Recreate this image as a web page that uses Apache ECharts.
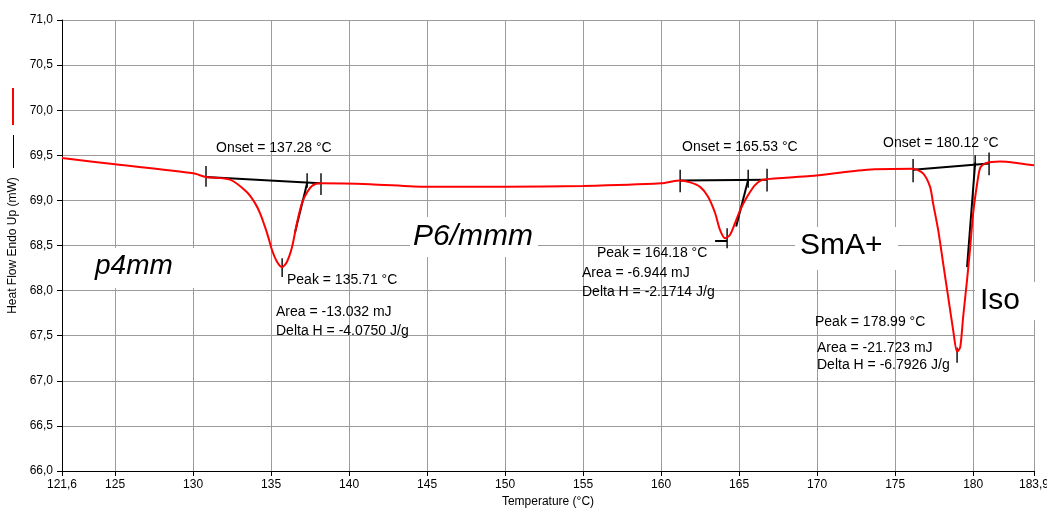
<!DOCTYPE html>
<html>
<head>
<meta charset="utf-8">
<script src="https://cdn.jsdelivr.net/npm/echarts@6/dist/echarts.min.js"></script>
<style>
  html, body { margin: 0; padding: 0; background: #fff; }
  #chart { width: 1047px; height: 510px; }
</style>
</head>
<body>
<div id="chart"></div>
<script>
// DSC trace (temperature in °C, heat flow in mW)
const temps = [
  121.6, 125.0, 130.0, 130.83, 132.37, 133.46, 133.97, 134.29, 134.74, 135.06,
  135.38, 135.71, 136.02, 136.34, 136.66, 136.98, 137.31, 137.69, 138.14, 141.34,
  145.0, 150.0, 155.0, 160.0, 161.22, 161.86, 162.5, 163.01, 163.46, 163.78,
  164.1, 164.42, 164.74, 165.06, 165.51, 166.02, 166.54, 169.55, 173.21, 176.15,
  176.79, 177.24, 177.43, 177.76, 178.07, 178.4, 178.72, 178.97, 179.17, 179.36,
  179.61, 179.81, 180.0, 180.26, 180.45, 180.77, 181.73, 183.01, 183.9
]
const heatFlow = [
  69.47, 69.40, 69.30, 69.26, 69.23, 69.09, 68.97, 68.86, 68.64, 68.45,
  68.32, 68.26, 68.32, 68.48, 68.75, 68.97, 69.09, 69.17, 69.19, 69.18,
  69.15, 69.15, 69.16, 69.19, 69.22, 69.20, 69.15, 69.04, 68.86, 68.67,
  68.58, 68.62, 68.75, 68.89, 69.04, 69.17, 69.23, 69.27, 69.34, 69.35,
  69.30, 69.15, 68.97, 68.67, 68.31, 67.93, 67.56, 67.32, 67.37, 67.71,
  68.12, 68.48, 68.86, 69.19, 69.36, 69.41, 69.43, 69.41, 69.39
]

// analysis construction lines (black)
const baselines = [
  [[130.83, 69.26], [138.14, 69.19]],
  [[161.22, 69.22], [166.79, 69.23]],
  [[176.15, 69.34], [181.02, 69.41]]
]
const tangents = [
  [[136.54, 68.65], [137.31, 69.19]],
  [[164.81, 68.71], [165.58, 69.23]],
  [[179.61, 68.26], [180.13, 69.42]]
]
// small marker ticks: [temperature, low, high]
const markerTicks = [
  [130.83, 69.15, 69.38], [137.31, 69.14, 69.30], [138.2, 69.06, 69.30], [135.71, 68.15, 68.36],
  [161.22, 69.09, 69.34], [165.58, 69.14, 69.34], [166.79, 69.10, 69.35], [164.23, 68.47, 68.69],
  [176.15, 69.20, 69.46], [180.13, 69.37, 69.50], [181.02, 69.28, 69.53], [178.97, 67.20, 67.37]
]
const peakFlats = [
  [[163.46, 68.55], [164.23, 68.55]]
]

const xLabelValues = [121.6, 125, 130, 135, 140, 145, 150, 155, 160, 165, 170, 175, 180, 183.9]

// annotation text
const notes = [
  { text: "Onset = 137.28 °C", x: 216, y: 148 },
  { text: "Peak = 135.71 °C", x: 287, y: 280 },
  { text: "Area = -13.032 mJ", x: 276, y: 312 },
  { text: "Delta H = -4.0750 J/g", x: 276, y: 331 },
  { text: "Onset = 165.53 °C", x: 682, y: 147 },
  { text: "Peak = 164.18 °C", x: 597, y: 253 },
  { text: "Area = -6.944 mJ", x: 582, y: 273 },
  { text: "Delta H = -2.1714 J/g", x: 582, y: 292 },
  { text: "Onset = 180.12 °C", x: 883, y: 143 },
  { text: "Peak = 178.99 °C", x: 815, y: 322 },
  { text: "Area = -21.723 mJ", x: 817, y: 348 },
  { text: "Delta H = -6.7926 J/g", x: 817, y: 365 }
]
const phases = [
  { text: "p4mm", x: 95, y: 266, italic: true, size: 28, box: [88, 248, 112, 40] },
  { text: "P6/mmm", x: 413, y: 237, italic: true, size: 30, box: [410, 217, 128, 40] },
  { text: "SmA+", x: 800, y: 246, italic: false, size: 30, box: [795, 227, 103, 43] },
  { text: "Iso", x: 980, y: 301, italic: false, size: 30, box: [975, 282, 70, 38] }
]

const FONT = '"Liberation Sans", Arial, sans-serif'
const comma = v => String(v).replace(".", ",")

const curve = temps.map((t, i) => [t, heatFlow[i]])

const blackSeries = []
baselines.concat(tangents).forEach(seg => {
  blackSeries.push({ type: "line", data: seg, symbol: "none", silent: true, z: 3,
    lineStyle: { color: "#000", width: 2 } })
})
markerTicks.forEach(([t, lo, hi]) => {
  blackSeries.push({ type: "line", data: [[t, lo], [t, hi]], symbol: "none", silent: true, z: 3,
    lineStyle: { color: "#000", width: 1.4 } })
})
peakFlats.forEach(seg => {
  blackSeries.push({ type: "line", data: seg, symbol: "none", silent: true, z: 3,
    lineStyle: { color: "#000", width: 2 } })
})

const graphics = []
phases.forEach(p => {
  graphics.push({ type: "rect", z: 50, shape: { x: p.box[0], y: p.box[1], width: p.box[2], height: p.box[3] },
    style: { fill: "#fff" } })
  graphics.push({ type: "text", z: 51, style: {
    text: p.text, x: p.x, y: p.y, verticalAlign: "middle", fill: "#000",
    font: (p.italic ? "italic " : "") + p.size + "px " + FONT } })
})
notes.forEach(n => {
  graphics.push({ type: "text", z: 51, style: {
    text: n.text, x: n.x, y: n.y, verticalAlign: "middle", fill: "#000", font: "14px " + FONT } })
})
// legend marks next to the y-axis name
graphics.push({ type: "line", shape: { x1: 13, y1: 88, x2: 13, y2: 125 }, style: { stroke: "#ff0000", lineWidth: 2 } })
graphics.push({ type: "line", shape: { x1: 13.5, y1: 135, x2: 13.5, y2: 168 }, style: { stroke: "#000", lineWidth: 1 } })

const chart = echarts.init(document.getElementById("chart"))
chart.setOption({
  backgroundColor: "#fff",
  animation: false,
  grid: { left: 62, right: 13, top: 20, bottom: 39, outerBoundsMode: "none", containLabel: false },
  xAxis: {
    type: "value",
    min: 121.6,
    max: 183.9,
    name: "Temperature (°C)",
    nameLocation: "middle",
    nameGap: 25,
    nameTextStyle: { color: "#000", fontSize: 12, fontFamily: FONT },
    axisLine: { onZero: false, lineStyle: { color: "#000" } },
    axisTick: { customValues: xLabelValues, length: 5, lineStyle: { color: "#000" } },
    axisLabel: { customValues: xLabelValues, color: "#000", fontSize: 12, fontFamily: FONT, margin: 8,
      formatter: v => comma(v) },
    splitLine: { show: true, lineStyle: { color: "#9c9c9c", width: 1 } }
  },
  yAxis: {
    type: "value",
    min: 66,
    max: 71,
    interval: 0.5,
    name: "Heat Flow Endo Up (mW)",
    nameLocation: "middle",
    nameGap: 41,
    nameTextStyle: { color: "#000", fontSize: 12, fontFamily: FONT },
    axisLine: { show: true, onZero: false, lineStyle: { color: "#000" } },
    axisTick: { show: true, length: 5, lineStyle: { color: "#000" } },
    axisLabel: { color: "#000", fontSize: 12, fontFamily: FONT, margin: 9,
      formatter: v => v.toFixed(1).replace(".", ",") },
    splitLine: { show: true, lineStyle: { color: "#9c9c9c", width: 1 } }
  },
  series: [
    { type: "line", data: curve, symbol: "none", smooth: 0.25, z: 4,
      lineStyle: { color: "#ff0000", width: 2 } }
  ].concat(blackSeries),
  graphic: graphics
})
</script>
</body>
</html>
